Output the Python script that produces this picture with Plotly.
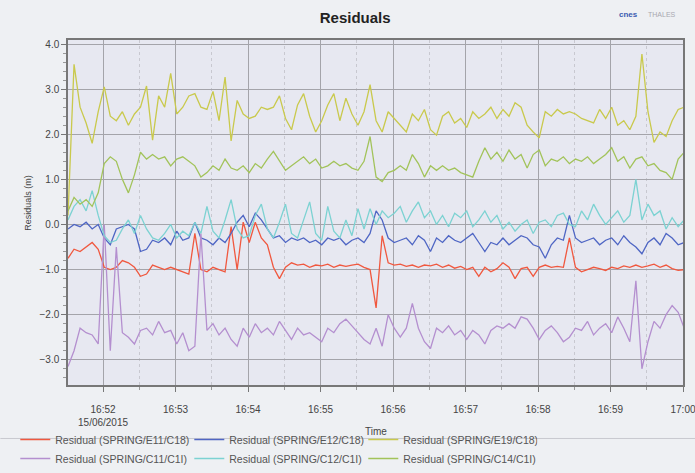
import pandas as pd
import plotly.graph_objects as go

# ---- data (5-second samples starting 15/06/2015 16:51:31) ----
start_time = "2015-06-15 16:51:31"
n_points = 103
times = pd.date_range(start_time, periods=n_points, freq="5s")

e11 = [-0.75, -0.55, -0.6, -0.5, -0.4, -0.55, -0.95, -1.0, -0.95, -0.8,
       -0.85, -0.95, -1.15, -1.1, -0.9, -0.95, -1.0, -0.95, -1.0, -1.05,
       -1.1, -0.2, -1.0, -1.05, -0.95, -1.0, -1.05, -0.05, -1.0, 0.05,
       -0.4, 0.05, -0.3, -0.45, -0.95, -1.2, -0.95, -0.85, -0.9, -0.88,
       -0.95, -0.9, -0.92, -0.88, -0.95, -0.9, -0.93, -0.9, -0.88, -0.95,
       -1.0, -1.85, -0.25, -0.85, -0.9, -0.88, -0.93, -0.9, -0.95, -0.9,
       -0.92, -0.88, -0.95, -0.9, -0.97, -0.93, -1.0, -0.95, -1.15, -0.95,
       -1.05, -0.98, -0.85, -0.95, -1.2, -0.98, -0.95, -1.15, -0.95, -0.9,
       -0.95, -0.93, -0.95, -0.3, -0.95, -1.05, -1.0, -0.95, -0.98, -1.02,
       -0.95, -0.98, -0.92, -0.95, -0.9, -0.95, -0.92, -0.88, -0.95, -0.9,
       -0.98, -1.02, -1.0]

e12 = [-0.1, 0.0, -0.05, 0.05, -0.1, 0.0, -0.3, -0.45, -0.1, -0.05,
       0.0, -0.1, -0.6, -0.55, -0.35, -0.4, -0.3, -0.45, -0.15, -0.35,
       -0.3, 0.05, -0.3, -0.35, -0.45, -0.3, -0.4, -0.2, 0.05, 0.2,
       -0.05, 0.25, 0.1, -0.1, -0.3, -0.25, -0.4, -0.3, -0.35, -0.3,
       -0.4, -0.35, -0.45, -0.3, -0.35, -0.3, -0.45, -0.35, -0.3, -0.4,
       -0.2, 0.3, 0.1, -0.3, -0.4, -0.35, -0.3, -0.45, -0.25, -0.35,
       -0.6, -0.3, -0.4, -0.25, -0.35, -0.4, -0.3, -0.2, -0.4, -0.6,
       -0.4, -0.45, -0.3, -0.45, -0.35, -0.25, -0.3, -0.45, -0.5, -0.75,
       -0.45, -0.3, -0.35, 0.2, -0.3, -0.4, -0.35, -0.3, -0.45, -0.35,
       -0.3, -0.45, -0.25, -0.4, -0.5, -0.65, -0.4, -0.3, -0.45, -0.2,
       -0.3, -0.45, -0.4]

e19 = [0.2, 3.55, 2.6, 2.25, 1.8, 2.5, 3.05, 2.4, 2.3, 2.5,
       2.2, 2.45, 2.6, 3.07, 1.87, 2.85, 2.6, 3.35, 2.45, 2.6,
       2.85, 2.9, 2.6, 2.55, 2.95, 2.3, 3.27, 1.85, 2.75, 2.45,
       2.35, 2.4, 2.6, 2.55, 2.6, 2.85, 2.35, 2.1, 2.65, 2.9,
       2.4, 2.05, 2.3, 2.65, 2.9, 2.3, 2.8, 2.45, 2.2, 2.5,
       3.1, 2.3, 2.05, 2.5, 2.35, 2.2, 2.05, 2.45, 2.3, 2.55,
       2.1, 1.98, 2.4, 2.5, 2.25, 2.35, 2.15, 2.5, 2.35, 2.45,
       2.6, 2.35, 2.55, 2.4, 2.7, 2.6, 2.2, 2.05, 1.92, 2.5,
       2.4, 2.55, 2.45, 2.5, 2.45, 2.35, 2.3, 2.25, 2.55, 2.35,
       2.6, 2.2, 2.3, 2.1, 2.4, 3.78, 2.5, 1.82, 2.05, 1.95,
       2.3, 2.55, 2.6]

c11 = [-3.15, -2.8, -2.3, -2.4, -2.45, -2.65, 0.0, -2.8, -0.5, -2.4,
       -2.5, -2.65, -2.35, -2.3, -2.45, -2.15, -2.4, -2.35, -2.65, -2.4,
       -2.8, -2.7, -0.2, -2.35, -2.2, -2.45, -2.3, -2.55, -2.7, -2.3,
       -2.5, -2.2, -2.4, -2.3, -2.45, -2.15, -2.35, -2.55, -2.3, -2.45,
       -2.4, -2.5, -2.6, -2.3, -2.4, -2.2, -2.1, -2.25, -2.4, -2.55,
       -2.65, -2.3, -2.7, -2.0, -2.3, -2.5, -2.3, -1.75, -2.3, -2.6,
       -2.75, -2.3, -2.4, -2.25, -2.45, -2.35, -2.55, -2.35, -2.45, -2.65,
       -2.35, -2.25, -2.3, -2.2, -2.3, -2.05, -2.1, -2.3, -2.55, -2.35,
       -2.25, -2.4, -2.6, -2.5, -2.3, -2.35, -2.15, -2.45, -2.3, -2.2,
       -2.4, -2.05, -2.3, -2.6, -1.25, -3.2, -2.6, -2.15, -2.3, -2.0,
       -1.8, -1.95, -2.3]

c12 = [0.1, 0.4, 0.55, 0.3, 0.75, 0.2, -0.25, -0.4, -0.35, -0.1,
       0.1, -0.2, 0.2, -0.1, -0.3, -0.35, -0.2, 0.0, -0.3, -0.15,
       -0.25, 0.05, -0.2, 0.4, -0.15, -0.3, 0.1, 0.55, -0.1, -0.3,
       -0.25, 0.2, 0.45, -0.1, -0.3, 0.05, 0.45, -0.2, -0.3, 0.1,
       0.5, -0.2, -0.35, 0.4, -0.15, -0.3, 0.1, -0.25, 0.35, -0.1,
       0.35, 0.0, 0.3, 0.15, 0.25, 0.4, 0.05, 0.3, 0.5, 0.15,
       0.3, 0.0, 0.2, -0.05, 0.25, 0.15, 0.3, -0.05, 0.1, 0.3,
       0.05, 0.2, -0.1, 0.05, -0.15, 0.0, 0.1, -0.2, 0.05, 0.1,
       -0.05, 0.2, 0.25, 0.0, -0.05, 0.3, 0.1, 0.45, 0.2, 0.0,
       0.15, 0.3, 0.05, 0.2, 1.0, 0.1, 0.45, 0.2, 0.3, -0.1,
       0.15, -0.05, 0.1]

c14 = [0.3, 0.6, 0.45, 0.55, 0.4, 0.7, 1.35, 1.5, 1.4, 1.0,
       0.7, 1.1, 1.6, 1.45, 1.55, 1.45, 1.5, 1.3, 1.45, 1.5,
       1.4, 1.3, 1.05, 1.15, 1.3, 1.2, 1.45, 1.25, 1.2, 1.3,
       1.15, 1.35, 1.25, 1.45, 1.62, 1.4, 1.2, 1.3, 1.4, 1.5,
       1.35, 1.45, 1.25, 1.3, 1.4, 1.3, 1.35, 1.25, 1.2, 1.4,
       1.95, 1.05, 0.95, 1.15, 1.2, 1.3, 1.2, 1.55, 1.35, 1.05,
       1.3, 1.2, 1.3, 1.2, 1.25, 1.15, 1.1, 1.05, 1.4, 1.7,
       1.45, 1.6, 1.4, 1.65, 1.45, 1.55, 1.25, 1.55, 1.65, 1.3,
       1.45, 1.4, 1.5, 1.35, 1.45, 1.4, 1.5, 1.35, 1.45, 1.55,
       1.7, 1.4, 1.5, 1.25, 1.45, 1.5, 1.3, 1.35, 1.2, 1.15,
       1.0, 1.45, 1.6]

series_names = ["Residual (SPRING/E11/C18)", "Residual (SPRING/E12/C18)",
                "Residual (SPRING/E19/C18)", "Residual (SPRING/C11/C1I)",
                "Residual (SPRING/C12/C1I)", "Residual (SPRING/C14/C1I)"]
series_values = [e11, e12, e19, c11, c12, c14]
series_colors = ["#f0583f", "#4f66c4", "#c9c94c", "#b48fcf", "#7cd2d2", "#a2c35a"]

tick_vals = ["2015-06-15 16:52:00", "2015-06-15 16:53:00", "2015-06-15 16:54:00",
             "2015-06-15 16:55:00", "2015-06-15 16:56:00", "2015-06-15 16:57:00",
             "2015-06-15 16:58:00", "2015-06-15 16:59:00", "2015-06-15 17:00:00"]
tick_text = ["16:52<br>15/06/2015", "16:53", "16:54", "16:55", "16:56",
             "16:57", "16:58", "16:59", "17:00"]
y_ticks = [-3.0, -2.0, -1.0, 0.0, 1.0, 2.0, 3.0, 4.0]

fig = go.Figure()
for name, vals, col in zip(series_names, series_values, series_colors):
    fig.add_trace(go.Scatter(x=times, y=vals, mode="lines", name=name,
                             line=dict(color=col, width=1.3)))

font_family = "Liberation Sans, Arial, sans-serif"
fig.update_layout(
    width=695, height=473,
    margin=dict(l=68, r=12, t=40, b=88, autoexpand=False),
    paper_bgcolor="#eef0f3",
    plot_bgcolor="#e7e8f1",
    font=dict(family=font_family, size=10, color="#444"),
    title=dict(text="<b>Residuals</b>", x=0.511, xanchor="center", y=0.962,
               yanchor="middle", font=dict(size=15, color="#222")),
    showlegend=True,
    legend=dict(orientation="h", xref="container", x=0.022, xanchor="left",
                yref="container", y=-0.068, yanchor="bottom",
                entrywidth=129, entrywidthmode="pixels", itemwidth=30,
                tracegroupgap=0, font=dict(size=10.5, color="#555"),
                bgcolor="rgba(0,0,0,0)"),
)
fig.update_xaxes(
    automargin=False,
    range=["2015-06-15 16:51:31", "2015-06-15 17:00:00"],
    tickvals=tick_vals, ticktext=tick_text, ticklabeloverflow="allow",
    ticks="outside", ticklen=5, tickcolor="#777", ticklabelstandoff=9,
    showgrid=True, gridcolor="#a4a4aa", gridwidth=1,
    minor=dict(dtick=30000, ticks="outside", ticklen=3, tickcolor="#999",
               showgrid=True, gridcolor="#c8c8d0", griddash="dot"),
    showline=True, linecolor="#777", linewidth=1.5, mirror=True,
    tickfont=dict(size=10, color="#444"),
)
fig.update_yaxes(
    automargin=False,
    range=[-3.56, 4.09],
    tickvals=y_ticks, tickformat=".1f",
    ticks="outside", ticklen=5, tickcolor="#777",
    showgrid=True, gridcolor="#a4a4aa", gridwidth=1, zeroline=False,
    minor=dict(dtick=0.2, ticks="outside", ticklen=3, tickcolor="#999", showgrid=False),
    showline=True, linecolor="#777", linewidth=1.5, mirror=True,
    tickfont=dict(size=10, color="#444"),
)

# axis titles
fig.add_annotation(text="Time", xref="paper", yref="paper", x=0.5, y=-0.136,
                   xanchor="center", yanchor="middle", showarrow=False,
                   font=dict(size=10, color="#444"))
fig.add_annotation(text="Residuals (m)", xref="paper", yref="paper", x=-0.065, y=0.528,
                   xanchor="center", yanchor="middle", showarrow=False, textangle=-90,
                   font=dict(size=9, color="#444"))

# separator above the legend
fig.add_shape(type="line", xref="paper", yref="paper", x0=-0.11, x1=1.02,
              y0=-0.155, y1=-0.155, line=dict(color="#c8c9cf", width=1))

# logo text
fig.add_annotation(text="<b>cnes</b>", xref="paper", yref="paper", x=0.93, y=1.075,
                   xanchor="right", yanchor="middle", showarrow=False,
                   font=dict(size=8, color="#3a5bb0"))
fig.add_annotation(text="THALES", xref="paper", yref="paper", x=0.94, y=1.075,
                   xanchor="left", yanchor="middle", showarrow=False,
                   font=dict(size=7, color="#a8a8b0"))

fig.write_html("out.html", config={"displayModeBar": False},
               post_script="document.body.style.margin='0px';")
